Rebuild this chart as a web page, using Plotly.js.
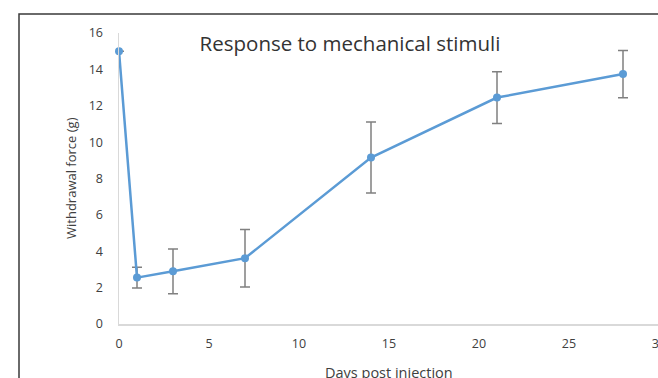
<!DOCTYPE html>
<html>
<head>
<meta charset="utf-8">
<script src="https://cdn.plot.ly/plotly-3.0.1.min.js"></script>
<style>
html,body{margin:0;padding:0;background:#fff;overflow:hidden;}
#wrap{width:658px;height:378px;overflow:hidden;position:relative;}
#chart{width:700px;height:400px;}
</style>
</head>
<body>
<div id="wrap"><div id="chart"></div></div>
<script>
const days = [0, 1, 3, 7, 14, 21, 28];
const force = [15.0, 2.55, 2.9, 3.62, 9.15, 12.45, 13.74];
const errors = [0, 0.57, 1.23, 1.58, 1.95, 1.42, 1.3];
const xTicks = [0, 5, 10, 15, 20, 25, 30];
const yTicks = [0, 2, 4, 6, 8, 10, 12, 14, 16];

const FONT = '"Open Sans", Lato, sans-serif';

const trace = {
  x: days,
  y: force,
  type: 'scatter',
  mode: 'lines+markers',
  cliponaxis: false,
  line: {color: '#5B9BD5', width: 2.5},
  marker: {color: '#5B9BD5', size: 8},
  error_y: {type: 'data', array: errors, visible: true, color: '#808080', thickness: 1.5, width: 5},
  hoverinfo: 'x+y'
};

const layout = {
  width: 700,
  height: 400,
  margin: {l: 119, r: 41, t: 33, b: 76},
  paper_bgcolor: '#fff',
  plot_bgcolor: '#fff',
  showlegend: false,
  title: {
    text: 'Response to mechanical stimuli',
    font: {family: FONT, size: 20.5, color: '#333333'},
    xref: 'container', x: 350/700, xanchor: 'center',
    yref: 'container', y: 1 - 44/400, yanchor: 'middle'
  },
  xaxis: {
    range: [0, 30],
    tickvals: xTicks,
    ticktext: xTicks.map(String),
    showgrid: false,
    zeroline: false,
    showline: true,
    linecolor: '#d9d9d9',
    linewidth: 1.5,
    ticks: 'outside', ticklen: 7, tickcolor: 'rgba(0,0,0,0)',
    tickfont: {family: FONT, size: 12.5, color: '#404040'}
  },
  yaxis: {
    range: [0, 16],
    tickvals: yTicks,
    ticktext: yTicks.map(String),
    showgrid: false,
    zeroline: false,
    showline: true,
    linecolor: '#d9d9d9',
    linewidth: 1.5,
    ticks: 'outside', ticklen: 12, tickcolor: 'rgba(0,0,0,0)',
    tickfont: {family: FONT, size: 12.5, color: '#404040'}
  },
  annotations: [
    {text: 'Days post injection', xref: 'paper', yref: 'paper', x: (389-119)/540, y: -(372-324)/291,
     xanchor: 'center', yanchor: 'middle', showarrow: false,
     font: {family: FONT, size: 14.5, color: '#404040'}},
    {text: 'Withdrawal force (g)', xref: 'paper', yref: 'paper', x: (71-119)/540, y: (324-178)/291,
     xanchor: 'center', yanchor: 'middle', textangle: -90, showarrow: false,
     font: {family: FONT, size: 13, color: '#404040'}}
  ],
  shapes: [
    {type: 'rect', xref: 'paper', yref: 'paper', x0: (19-119)/540, x1: 1.3, y0: -0.6, y1: 1 + 19/291,
     line: {color: '#3a3a3a', width: 1.5}, layer: 'below'}
  ]
};

Plotly.newPlot('chart', [trace], layout, {displayModeBar: false, staticPlot: true});
</script>
</body>
</html>
